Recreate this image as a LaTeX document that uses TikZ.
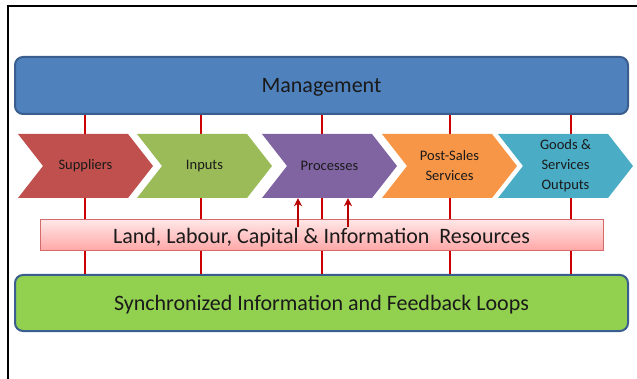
\documentclass[tikz,border=0pt]{standalone}
\usepackage{fontspec}
\setmainfont{Carlito}
\usetikzlibrary{arrows.meta}

\definecolor{mgmtblue}{HTML}{4F81BD}
\definecolor{edgeblue}{HTML}{3A5F8E}
\definecolor{syncgreen}{HTML}{92D050}
\definecolor{supred}{HTML}{C0504D}
\definecolor{inpgreen}{HTML}{9BBB59}
\definecolor{procviolet}{HTML}{8064A2}
\definecolor{postorange}{HTML}{F79646}
\definecolor{goodsblue}{HTML}{4BACC6}
\definecolor{linkred}{HTML}{CC0000}
\definecolor{pinkhi}{HTML}{FFE6E6}
\definecolor{pinklo}{HTML}{FFA6A6}
\definecolor{pinkedge}{HTML}{D46A6A}
\definecolor{txtdark}{HTML}{1A1A1A}

\begin{document}
\begin{tikzpicture}[x=1pt,y=-1pt,
    bar/.style={draw=edgeblue, line width=2pt, rounded corners=8pt, inner sep=0pt,
      minimum width=613pt, text=txtdark, text depth=0pt, font=\fontsize{22}{26}\selectfont},
    chev/.style={minimum width=135pt, minimum height=64pt, inner sep=0pt, align=center,
      text=txtdark, font=\fontsize{14.5}{20}\selectfont},
    link/.style={linkred, line width=2pt},
    feed/.style={linkred!90!black, line width=2pt, -{Stealth[length=8pt,width=8pt]}}]
      \useasboundingbox (0,0) rectangle (637,379);
      \draw [black, line width=2pt] (8,380) -- (8,6) -- (638,6);
      % top and bottom bands
      \node [bar, fill=mgmtblue, minimum height=57pt] (mgmt) at (321.5,85.5) {Management};
      \node [bar, fill=syncgreen, minimum height=56pt] (sync) at (321.5,303) {Synchronized Information and Feedback Loops};
      \foreach \x/\i in {85/1, 201/2, 322/3, 450/4, 571/5}
      {
        \coordinate (l\i) at (\x,0);
        \draw [link] (mgmt.south -| l\i) -- (sync.north -| l\i);
      }
      % chevrons
      \foreach \x/\col/\name/\txt in {18/supred/sup/Suppliers, 137/inpgreen/inp/Inputs,
          262/procviolet/proc/Processes, 382/postorange/post/{Post-Sales\\Services},
          498/goodsblue/goods/{Goods \&\\Services\\Outputs}}
      {
        \fill [\col] (\x,134) -- ++(110,0) -- ++(25,32) -- ++(-25,32) -- ++(-110,0) -- ++(25,-32) -- cycle;
        \node [chev] (\name) at (\x+67.5,166) {\txt};
      }
      % resources
      \node [draw=pinkedge, line width=1pt, top color=pinkhi, bottom color=pinklo,
        minimum width=563pt, minimum height=31pt, inner sep=0pt, text=txtdark, text depth=0pt,
        font=\fontsize{22}{26}\selectfont] (res) at (321.5,235.5)
        {Land, Labour, Capital \& Information\ \ Resources};
      \draw [feed] ([xshift=-23.5pt,yshift=-8pt]res.north) -- ([xshift=-31.5pt]proc.south);
      \draw [feed] ([xshift=26.5pt,yshift=-8pt]res.north) -- ([xshift=18.5pt]proc.south);
    \end{tikzpicture}
\end{document}
